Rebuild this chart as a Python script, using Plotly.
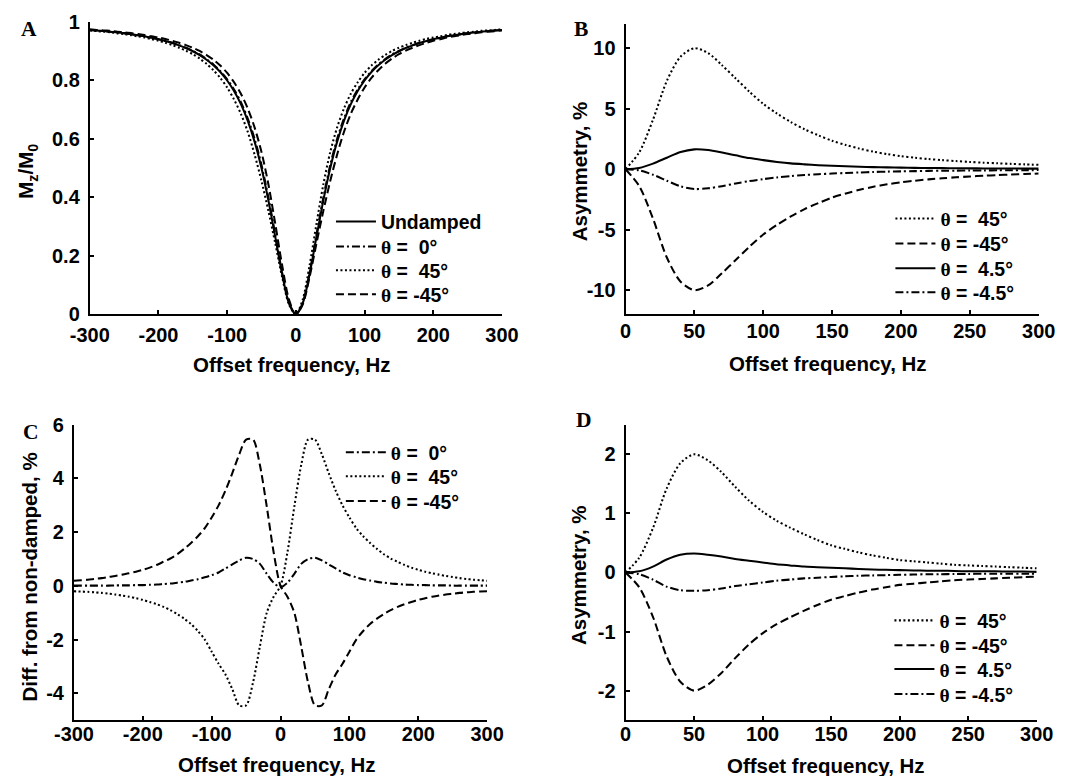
import plotly.graph_objects as go

W, H = 1079, 776

# ---------------- data ----------------
X_FULL = list(range(-300, 301, 10))
X_HALF = list(range(0, 301, 10))

# Panel A: Mz/M0
A_UNDAMPED = [0.973, 0.971, 0.969, 0.967, 0.964, 0.962, 0.958, 0.955, 0.951, 0.946,
              0.941, 0.935, 0.928, 0.920, 0.911, 0.900, 0.887, 0.871, 0.852, 0.829,
              0.800, 0.764, 0.719, 0.662, 0.590, 0.500, 0.390, 0.265, 0.138, 0.038,
              0.000,
              0.038, 0.138, 0.265, 0.390, 0.500, 0.590, 0.662, 0.719, 0.764, 0.800,
              0.829, 0.852, 0.871, 0.887, 0.900, 0.911, 0.920, 0.928, 0.935, 0.941,
              0.946, 0.951, 0.955, 0.958, 0.962, 0.964, 0.967, 0.969, 0.971, 0.973]
A_TH0 = [0.973, 0.971, 0.969, 0.967, 0.964, 0.962, 0.958, 0.955, 0.951, 0.946,
         0.941, 0.935, 0.929, 0.921, 0.912, 0.901, 0.889, 0.873, 0.855, 0.832,
         0.804, 0.769, 0.726, 0.670, 0.600, 0.511, 0.400, 0.273, 0.143, 0.040,
         0.000,
         0.040, 0.143, 0.273, 0.400, 0.511, 0.600, 0.670, 0.726, 0.769, 0.804,
         0.832, 0.855, 0.873, 0.889, 0.901, 0.912, 0.921, 0.929, 0.935, 0.941,
         0.946, 0.951, 0.955, 0.958, 0.962, 0.964, 0.967, 0.969, 0.971, 0.973]
A_TH45 = [0.971, 0.969, 0.967, 0.965, 0.961, 0.959, 0.955, 0.951, 0.947, 0.941,
          0.936, 0.929, 0.921, 0.912, 0.902, 0.890, 0.875, 0.857, 0.835, 0.809,
          0.776, 0.735, 0.686, 0.624, 0.546, 0.456, 0.354, 0.243, 0.128, 0.034,
          0.000,
          0.051, 0.168, 0.310, 0.445, 0.555, 0.639, 0.704, 0.755, 0.794, 0.826,
          0.851, 0.871, 0.887, 0.901, 0.912, 0.921, 0.929, 0.936, 0.942, 0.947,
          0.951, 0.956, 0.959, 0.962, 0.965, 0.967, 0.970, 0.971, 0.973, 0.975]
A_THM45 = [0.975, 0.973, 0.971, 0.970, 0.967, 0.965, 0.962, 0.959, 0.956, 0.951,
           0.947, 0.942, 0.936, 0.929, 0.921, 0.912, 0.901, 0.887, 0.871, 0.851,
           0.826, 0.794, 0.755, 0.704, 0.639, 0.555, 0.445, 0.310, 0.168, 0.051,
           0.000,
           0.034, 0.128, 0.243, 0.354, 0.456, 0.546, 0.624, 0.686, 0.735, 0.776,
           0.809, 0.835, 0.857, 0.875, 0.890, 0.902, 0.912, 0.921, 0.929, 0.936,
           0.941, 0.947, 0.951, 0.955, 0.959, 0.961, 0.965, 0.967, 0.969, 0.971]

# Panel B: asymmetry, %
B_TH45 = [0, 1.4, 4.1, 7.3, 9.3, 10.0, 9.6, 8.6, 7.5, 6.4, 5.4, 4.6, 3.9, 3.3, 2.8, 2.35,
          2.0, 1.7, 1.45, 1.25, 1.08, 0.95, 0.84, 0.75, 0.67, 0.6, 0.54, 0.49, 0.44, 0.4, 0.36]
B_THM45 = [0, -1.4, -4.1, -7.3, -9.3, -10.0, -9.6, -8.6, -7.5, -6.4, -5.4, -4.6, -3.9, -3.3,
           -2.8, -2.35, -2.0, -1.7, -1.45, -1.25, -1.08, -0.95, -0.84, -0.75, -0.67, -0.6,
           -0.54, -0.49, -0.44, -0.4, -0.36]
B_TH4_5 = [0, 0.1, 0.46, 0.95, 1.42, 1.64, 1.58, 1.38, 1.15, 0.92, 0.75, 0.6, 0.48, 0.4,
           0.33, 0.28, 0.24, 0.2, 0.17, 0.15, 0.13, 0.11, 0.1, 0.09, 0.08, 0.07, 0.065,
           0.06, 0.055, 0.05, 0.05]
B_THM4_5 = [0, -0.1, -0.46, -0.95, -1.42, -1.64, -1.58, -1.4, -1.18, -0.98, -0.82, -0.68,
            -0.57, -0.48, -0.41, -0.36, -0.31, -0.27, -0.23, -0.2, -0.18, -0.16, -0.14,
            -0.13, -0.12, -0.11, -0.1, -0.09, -0.08, -0.08, -0.07]

# Panel C: difference from non-damped, %
C_TH0 = [0.01, 0.01, 0.01, 0.01, 0.01, 0.01, 0.02, 0.02, 0.02, 0.03,
         0.03, 0.04, 0.05, 0.07, 0.09, 0.12, 0.15, 0.20, 0.25, 0.32,
         0.40, 0.50, 0.65, 0.80, 0.95, 1.05, 1.00, 0.82, 0.45, 0.12,
         -0.05,
         0.12, 0.45, 0.82, 1.00, 1.05, 0.95, 0.80, 0.65, 0.50, 0.40,
         0.32, 0.25, 0.20, 0.15, 0.12, 0.09, 0.07, 0.05, 0.04, 0.03,
         0.03, 0.02, 0.02, 0.02, 0.01, 0.01, 0.01, 0.01, 0.01, 0.01]
C_TH45 = [-0.20, -0.21, -0.22, -0.24, -0.26, -0.29, -0.32, -0.36, -0.40, -0.46,
          -0.52, -0.60, -0.68, -0.78, -0.90, -1.05, -1.22, -1.42, -1.68, -2.00,
          -2.45, -2.90, -3.30, -3.85, -4.45, -4.45, -3.60, -2.25, -1.00, -0.40,
          0.00,
          1.25, 2.95, 4.50, 5.45, 5.45, 4.90, 4.20, 3.55, 3.00, 2.55,
          2.15, 1.85, 1.60, 1.38, 1.18, 1.02, 0.90, 0.78, 0.68, 0.60,
          0.53, 0.47, 0.42, 0.37, 0.33, 0.29, 0.26, 0.23, 0.21, 0.19]
C_THM45 = [0.19, 0.21, 0.23, 0.26, 0.29, 0.33, 0.37, 0.42, 0.47, 0.53,
           0.60, 0.68, 0.78, 0.90, 1.02, 1.18, 1.38, 1.60, 1.85, 2.15,
           2.55, 3.00, 3.55, 4.20, 4.90, 5.45, 5.45, 4.50, 2.95, 1.25,
           0.00,
           -0.40, -1.00, -2.25, -3.60, -4.45, -4.45, -3.85, -3.30, -2.90, -2.45,
           -2.00, -1.68, -1.42, -1.22, -1.05, -0.90, -0.78, -0.68, -0.60, -0.52,
           -0.46, -0.40, -0.36, -0.32, -0.29, -0.26, -0.24, -0.22, -0.21, -0.20]

# Panel D: asymmetry, %
D_TH45 = [0, 0.25, 0.75, 1.42, 1.85, 2.0, 1.9, 1.7, 1.45, 1.22, 1.03, 0.88, 0.76, 0.65,
          0.55, 0.46, 0.4, 0.34, 0.29, 0.25, 0.21, 0.19, 0.17, 0.15, 0.13, 0.12, 0.11,
          0.1, 0.09, 0.08, 0.07]
D_THM45 = [0, -0.25, -0.75, -1.42, -1.85, -2.0, -1.9, -1.7, -1.45, -1.22, -1.03, -0.88,
           -0.76, -0.65, -0.55, -0.46, -0.4, -0.34, -0.29, -0.25, -0.21, -0.19, -0.17,
           -0.15, -0.13, -0.12, -0.11, -0.1, -0.09, -0.08, -0.07]
D_TH4_5 = [0, 0.02, 0.1, 0.22, 0.3, 0.32, 0.3, 0.27, 0.23, 0.2, 0.17, 0.14, 0.12, 0.1,
           0.09, 0.08, 0.07, 0.06, 0.05, 0.045, 0.04, 0.035, 0.03, 0.03, 0.025, 0.02,
           0.02, 0.02, 0.015, 0.015, 0.01]
D_THM4_5 = [0, -0.03, -0.12, -0.24, -0.3, -0.31, -0.3, -0.27, -0.23, -0.2, -0.17, -0.14,
            -0.12, -0.1, -0.09, -0.075, -0.065, -0.055, -0.05, -0.045, -0.04, -0.035,
            -0.03, -0.03, -0.025, -0.025, -0.02, -0.02, -0.02, -0.02, -0.02]

# tick labels
XT_FULL = [-300, -200, -100, 0, 100, 200, 300]
XT_FULL_TXT = ["-300", "-200", "-100", "0", "100", "200", "300"]
XT_HALF = [0, 50, 100, 150, 200, 250, 300]
XT_HALF_TXT = ["0", "50", "100", "150", "200", "250", "300"]
YT_A = [0, 0.2, 0.4, 0.6, 0.8, 1]
YT_A_TXT = ["0", "0.2", "0.4", "0.6", "0.8", "1"]
YT_B = [-10, -5, 0, 5, 10]
YT_B_TXT = ["-10", "-5", "0", "5", "10"]
YT_C = [-4, -2, 0, 2, 4, 6]
YT_C_TXT = ["-4", "-2", "0", "2", "4", "6"]
YT_D = [-2, -1, 0, 1, 2]
YT_D_TXT = ["-2", "-1", "0", "1", "2"]

# ---------------- style ----------------
SANS = "Liberation Sans, Arial, Helvetica, sans-serif"
SERIF = "Liberation Serif, Times New Roman, serif"
DOT = "2px,2.5px"
DASH = "8px,4px"
DASHDOT = "8px,3px,2px,3px"
SOLID = "solid"

# the rendered page comes out slightly shrunk about its centre; compensate
S = 0.977
CX, CY = W / 2, H / 2
LW = 2 / S

def px(x):
    return (CX + (x - CX) / S) / W

def py(y):
    return 1 - (CY + (y - CY) / S) / H

def fs(size):
    return size / S

def th(s):
    return '<span style="font-family:Liberation Serif">θ</span>' + s

NB = "\u00a0"
L_UND = "Undamped"
L_0 = th(" =" + NB + NB + "0°")
L_45 = th(" =" + NB + NB + "45°")
L_M45 = th(" = -45°")
L_4_5 = th(" =" + NB + NB + "4.5°")
L_M4_5 = th(" = -4.5°")

fig = go.Figure()
legends = {}
LEG_FONT = dict(family=SANS, size=fs(19), color="black", weight="bold")

def add(x, y, dash, name, xa, ya, sample_x, row_y):
    n = len(legends) + 1
    lid = "legend" if n == 1 else "legend%d" % n
    legends[lid] = dict(x=px(sample_x - 10), y=py(row_y), xanchor="left", yanchor="middle",
                        bgcolor="rgba(0,0,0,0)", font=LEG_FONT, itemwidth=40,
                        borderwidth=0)
    fig.add_trace(go.Scatter(
        x=x, y=y, mode="lines", name=name, xaxis=xa, yaxis=ya, legend=lid,
        line=dict(color="black", width=LW, dash=dash, shape="spline", smoothing=0.8),
        hoverinfo="skip"))

# rows: legend sample start x, row centre y (in target pixels)
add(X_FULL, A_UNDAMPED, SOLID, L_UND, "x", "y", 337, 221)
add(X_FULL, A_TH0, DASHDOT, L_0, "x", "y", 337, 246)
add(X_FULL, A_TH45, DOT, L_45, "x", "y", 337, 270)
add(X_FULL, A_THM45, DASH, L_M45, "x", "y", 337, 294)

add(X_HALF, B_TH45, DOT, L_45, "x2", "y2", 903, 218)
add(X_HALF, B_THM45, DASH, L_M45, "x2", "y2", 903, 243)
add(X_HALF, B_TH4_5, SOLID, L_4_5, "x2", "y2", 903, 268)
add(X_HALF, B_THM4_5, DASHDOT, L_M4_5, "x2", "y2", 903, 292)

add(X_FULL, C_TH0, DASHDOT, L_0, "x3", "y3", 347, 453)
add(X_FULL, C_TH45, DOT, L_45, "x3", "y3", 347, 477)
add(X_FULL, C_THM45, DASH, L_M45, "x3", "y3", 347, 502)

add(X_HALF, D_TH45, DOT, L_45, "x4", "y4", 902, 622)
add(X_HALF, D_THM45, DASH, L_M45, "x4", "y4", 902, 647)
add(X_HALF, D_TH4_5, SOLID, L_4_5, "x4", "y4", 902, 671)
add(X_HALF, D_THM4_5, DASHDOT, L_M4_5, "x4", "y4", 902, 696)

TICKFONT = dict(family=SANS, size=fs(19.5), color="black", weight="bold")

def axis(domain, rng, tv, tt, anchor, standoff):
    return dict(domain=domain, range=rng, tickvals=tv, ticktext=tt, anchor=anchor,
                showline=True, linecolor="black", linewidth=2 / S, ticks="inside",
                ticklen=4, tickwidth=1.5, tickcolor="black", showgrid=False,
                zeroline=False, tickfont=TICKFONT, fixedrange=True,
                ticklabelstandoff=standoff)

# panel pixel boxes (left, right, top, bottom)
PA = (83, 500, 20, 314)
PB = (625, 1043, 22, 314)
PC = (67, 485, 425, 722)
PD = (625, 1041, 425, 722)

def xd(p):
    return [px(p[0]), px(p[1])]

def yd(p):
    return [py(p[3]), py(p[2])]

ann = []
def text(x, y, s, size=20, angle=0, family=SANS):
    ann.append(dict(x=px(x), y=py(y), xref="paper", yref="paper", text=s, showarrow=False,
                    textangle=angle, xanchor="center", yanchor="middle",
                    font=dict(family=family, size=fs(size), color="black", weight="bold")))

text(22, 27, "A", size=21, family=SERIF)
text(580, 27, "B", size=21, family=SERIF)
text(24, 432, "C", size=21, family=SERIF)
text(583, 420, "D", size=21, family=SERIF)

text(288, 364, "Offset frequency, Hz")
text(830, 363, "Offset frequency, Hz")
text(272, 767, "Offset frequency, Hz")
text(828, 768, "Offset frequency, Hz")

text(20, 170, "M<sub>z</sub>/M<sub>0</sub>", angle=-90)
text(578, 170, "Asymmetry, %", angle=-90)
text(22, 578, "Diff. from non-damped, %", angle=-90)
text(578, 576, "Asymmetry, %", angle=-90)

fig.update_layout(
    width=W, height=H, margin=dict(l=0, r=0, t=0, b=0),
    paper_bgcolor="white", plot_bgcolor="white",
    font=dict(family=SANS, color="black"),
    xaxis=axis(xd(PA), [-300, 300], XT_FULL, XT_FULL_TXT, "y", 2),
    yaxis=axis(yd(PA), [0, 1], YT_A, YT_A_TXT, "x", 4),
    xaxis2=axis(xd(PB), [0, 300], XT_HALF, XT_HALF_TXT, "y2", -2),
    yaxis2=axis(yd(PB), [-12, 12], YT_B, YT_B_TXT, "x2", 4),
    xaxis3=axis(xd(PC), [-300, 300], XT_FULL, XT_FULL_TXT, "y3", -5),
    yaxis3=axis(yd(PC), [-5, 6], YT_C, YT_C_TXT, "x3", 4),
    xaxis4=axis(xd(PD), [0, 300], XT_HALF, XT_HALF_TXT, "y4", -5),
    yaxis4=axis(yd(PD), [-2.5, 2.5], YT_D, YT_D_TXT, "x4", 4),
    annotations=ann,
    showlegend=True,
    **legends,
)

fig.write_html("out.html")
